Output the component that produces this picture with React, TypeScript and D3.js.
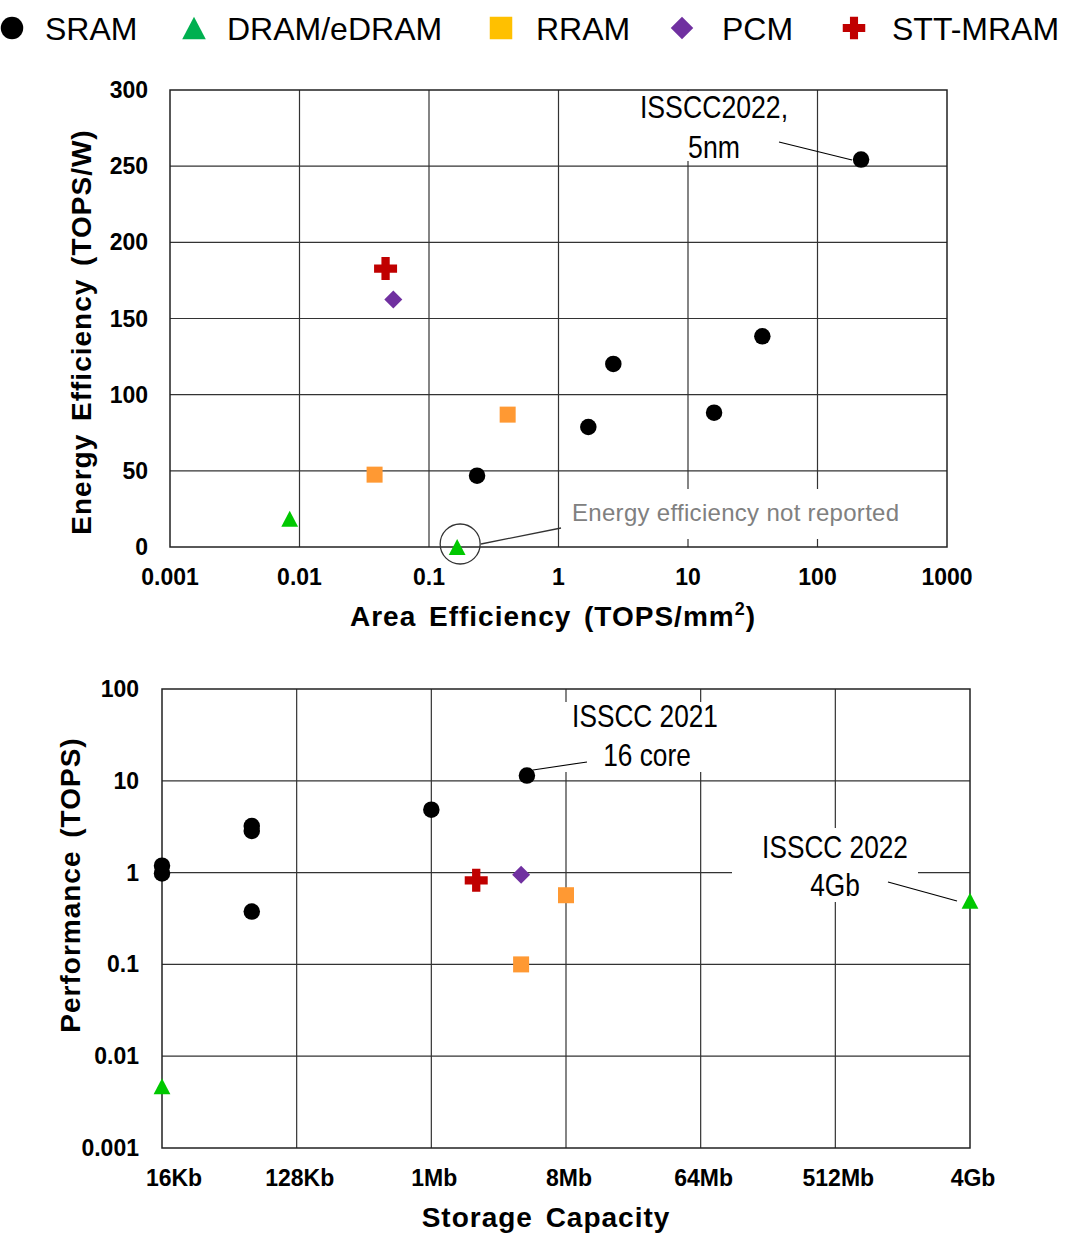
import * as d3 from "d3";

// ---- top chart: area efficiency (TOPS/mm2) vs energy efficiency (TOPS/W)
const effSram = [
  { a: 217, e: 254.3 },
  { a: 37.5, e: 138.3 },
  { a: 2.65, e: 120.2 },
  { a: 15.9, e: 88.2 },
  { a: 1.7, e: 78.8 },
  { a: 0.235, e: 46.8 },
];
const effDram = [
  { a: 0.0084, e: 18.5 },
  { a: 0.165, e: 0 },
];
const effRram = [
  { a: 0.038, e: 47.5 },
  { a: 0.405, e: 86.9 },
];
const effPcm = [{ a: 0.053, e: 162.4 }];
const effStt = [{ a: 0.0462, e: 182.8 }];

const effXTicks = [0.001, 0.01, 0.1, 1, 10, 100, 1000];
const effYTicks = [0, 50, 100, 150, 200, 250, 300];

// ---- bottom chart: storage capacity (Kb) vs performance (TOPS)
const perfSram = [
  { c: 16, p: 1.19 },
  { c: 16, p: 0.98 },
  { c: 64, p: 3.22 },
  { c: 64, p: 2.84 },
  { c: 64, p: 0.376 },
  { c: 1024, p: 4.85 },
  { c: 4480, p: 11.4 },
];
const perfDram = [
  { c: 16, p: 0.0047 },
  { c: 4194304, p: 0.495 },
];
const perfRram = [
  { c: 4096, p: 0.1 },
  { c: 8192, p: 0.567 },
];
const perfPcm = [{ c: 4096, p: 0.95 }];
const perfStt = [{ c: 2048, p: 0.824 }];

const capTicks = [16, 128, 1024, 8192, 65536, 524288, 4194304];
const capLabels = ["16Kb", "128Kb", "1Mb", "8Mb", "64Mb", "512Mb", "4Gb"];
const perfTicks = [0.001, 0.01, 0.1, 1, 10, 100];
const perfLabels = ["0.001", "0.01", "0.1", "1", "10", "100"];

const legendItems = ["SRAM", "DRAM/eDRAM", "RRAM", "PCM", "STT-MRAM"];

const FONT = "'Liberation Sans', Arial, Helvetica, sans-serif";
const GRID = "#333";

const plotColor: Record<string, string> = {
  circle: "#000",
  triangle: "#00C800",
  square: "#FF9933",
  diamond: "#7030A0",
  cross: "#C00000",
};
const legendColor: Record<string, string> = {
  circle: "#000",
  triangle: "#00B050",
  square: "#FFC000",
  diamond: "#7030A0",
  cross: "#C00000",
};
const kinds = ["circle", "triangle", "square", "diamond", "cross"];

function Marker({ kind, x, y, s, fill }: { kind: string; x: number; y: number; s: number; fill: string }) {
  const h = s / 2;
  if (kind === "circle") return <circle cx={x} cy={y} r={h} fill={fill} />;
  if (kind === "triangle")
    return <path d={`M${x},${y - h}L${x + h * 1.05},${y + h}L${x - h * 1.05},${y + h}Z`} fill={fill} />;
  if (kind === "square") return <rect x={x - h} y={y - h} width={s} height={s} fill={fill} />;
  if (kind === "diamond")
    return <path d={`M${x},${y - h}L${x + h},${y}L${x},${y + h}L${x - h},${y}Z`} fill={fill} />;
  const t = s * 0.18;
  return (
    <path
      d={`M${x - t},${y - h}H${x + t}V${y - t}H${x + h}V${y + t}H${x + t}V${y + h}H${x - t}V${y + t}H${x - h}V${y - t}H${x - t}Z`}
      fill={fill}
    />
  );
}

export default function App() {
  // top chart scales
  const x1 = d3.scaleLog().domain([0.001, 1000]).range([170, 947]);
  const y1 = d3.scaleLinear().domain([0, 300]).range([547, 90]);
  // bottom chart scales
  const x2 = d3.scaleLog().base(2).domain([16, 4194304]).range([162, 970]);
  const y2 = d3.scaleLog().domain([0.001, 100]).range([1148, 689]);

  const effSeries = [effSram, effDram, effRram, effPcm, effStt];
  const perfSeries = [perfSram, perfDram, perfRram, perfPcm, perfStt];
  const plotSize: Record<string, number> = { circle: 16.5, triangle: 16, square: 16, diamond: 18, cross: 23 };

  const legendX = [12, 194, 501, 682, 854];
  const legendTextX = [45, 227, 536, 722, 892];

  return (
    <svg width={1080} height={1237} style={{ position: "absolute", left: 0, top: 0, background: "#fff" }} fontFamily={FONT}>
      <rect width={1080} height={1237} fill="#fff" />

      {/* legend */}
      {legendItems.map((name, i) => (
        <g key={name}>
          <Marker kind={kinds[i]} x={legendX[i]} y={28} s={22.5} fill={legendColor[kinds[i]]} />
          <text x={legendTextX[i]} y={40} fontSize={32} fill="#000">
            {name}
          </text>
        </g>
      ))}

      {/* ===== top chart ===== */}
      <g>
        {effYTicks.slice(1, -1).map((v) => (
          <line key={v} x1={170} x2={947} y1={y1(v)} y2={y1(v)} stroke={GRID} strokeWidth={1.2} />
        ))}
        {effXTicks.slice(1, -1).map((v) => (
          <line key={v} x1={x1(v)} x2={x1(v)} y1={90} y2={547} stroke={GRID} strokeWidth={1.2} />
        ))}
        {/* label backgrounds */}
        <rect x={634} y={91} width={162} height={70} fill="#fff" />
        <rect x={565} y={489} width={340} height={50} fill="#fff" />
        <rect x={170} y={90} width={777} height={457} fill="none" stroke="#222" strokeWidth={1.5} />

        {effYTicks.map((v) => (
          <text key={v} x={148} y={y1(v) + 8} fontSize={23} fontWeight="bold" textAnchor="end">
            {v}
          </text>
        ))}
        {effXTicks.map((v) => (
          <text key={v} x={x1(v)} y={585} fontSize={23} fontWeight="bold" textAnchor="middle">
            {v}
          </text>
        ))}
        <text x={553} y={626} fontSize={28} fontWeight="bold" textAnchor="middle" letterSpacing={1} wordSpacing={4}>
          Area Efficiency (TOPS/mm
          <tspan fontSize={18} dy={-11}>2</tspan>
          <tspan dy={11}>)</tspan>
        </text>
        <text
          transform={`translate(91,332) rotate(-90)`}
          fontSize={28}
          fontWeight="bold"
          textAnchor="middle"
          letterSpacing={1}
          wordSpacing={4}
        >
          Energy Efficiency (TOPS/W)
        </text>

        {/* annotations */}
        <line x1={779} y1={142} x2={852} y2={160} stroke="#000" strokeWidth={1.2} />
        <text transform="translate(714,118) scale(0.86,1)" fontSize={31} textAnchor="middle">
          ISSCC2022,
        </text>
        <text transform="translate(714,158) scale(0.86,1)" fontSize={31} textAnchor="middle">
          5nm
        </text>
        <circle cx={x1(effDram[1].a) + 3} cy={544} r={20} fill="none" stroke="#333" strokeWidth={1.3} />
        <line x1={481} y1={544} x2={561} y2={528} stroke="#333" strokeWidth={1.3} />
        <text x={572} y={521} fontSize={24} fill="#808080" letterSpacing={0.3}>
          Energy efficiency not reported
        </text>

        {effSeries.map((series, i) =>
          series.map((d, j) => (
            <Marker
              key={`${i}-${j}`}
              kind={kinds[i]}
              x={x1(d.a)}
              y={y1(d.e)}
              s={plotSize[kinds[i]]}
              fill={plotColor[kinds[i]]}
            />
          ))
        )}
      </g>

      {/* ===== bottom chart ===== */}
      <g>
        {perfTicks.slice(1, -1).map((v) => (
          <line key={v} x1={162} x2={970} y1={y2(v)} y2={y2(v)} stroke={GRID} strokeWidth={1.2} />
        ))}
        {capTicks.slice(1, -1).map((v) => (
          <line key={v} x1={x2(v)} x2={x2(v)} y1={689} y2={1148} stroke={GRID} strokeWidth={1.2} />
        ))}
        <rect x={560} y={702} width={160} height={70} fill="#fff" />
        <rect x={732} y={828} width={186} height={74} fill="#fff" />
        <rect x={162} y={689} width={808} height={459} fill="none" stroke="#222" strokeWidth={1.5} />

        {perfTicks.map((v, i) => (
          <text key={v} x={139} y={y2(v) + 8} fontSize={23} fontWeight="bold" textAnchor="end">
            {perfLabels[i]}
          </text>
        ))}
        {capTicks.map((v, i) => (
          <text key={v} x={x2(v) + (i === 0 ? 12 : 3)} y={1186} fontSize={23} fontWeight="bold" textAnchor="middle">
            {capLabels[i]}
          </text>
        ))}
        <text x={546} y={1227} fontSize={28} fontWeight="bold" textAnchor="middle" letterSpacing={1} wordSpacing={4}>
          Storage Capacity
        </text>
        <text
          transform={`translate(80,885) rotate(-90)`}
          fontSize={28}
          fontWeight="bold"
          textAnchor="middle"
          letterSpacing={1}
          wordSpacing={4}
        >
          Performance (TOPS)
        </text>

        <line x1={533} y1={770} x2={587} y2={762} stroke="#000" strokeWidth={1.2} />
        <text transform="translate(645,727) scale(0.82,1)" fontSize={32} textAnchor="middle">
          ISSCC 2021
        </text>
        <text transform="translate(647,766) scale(0.82,1)" fontSize={32} textAnchor="middle">
          16 core
        </text>
        <line x1={888} y1={882} x2={957} y2={901} stroke="#000" strokeWidth={1.2} />
        <text transform="translate(835,858) scale(0.82,1)" fontSize={32} textAnchor="middle">
          ISSCC 2022
        </text>
        <text transform="translate(835,896) scale(0.82,1)" fontSize={32} textAnchor="middle">
          4Gb
        </text>

        {perfSeries.map((series, i) =>
          series.map((d, j) => (
            <Marker
              key={`${i}-${j}`}
              kind={kinds[i]}
              x={x2(d.c)}
              y={y2(d.p)}
              s={plotSize[kinds[i]]}
              fill={plotColor[kinds[i]]}
            />
          ))
        )}
      </g>
    </svg>
  );
}
